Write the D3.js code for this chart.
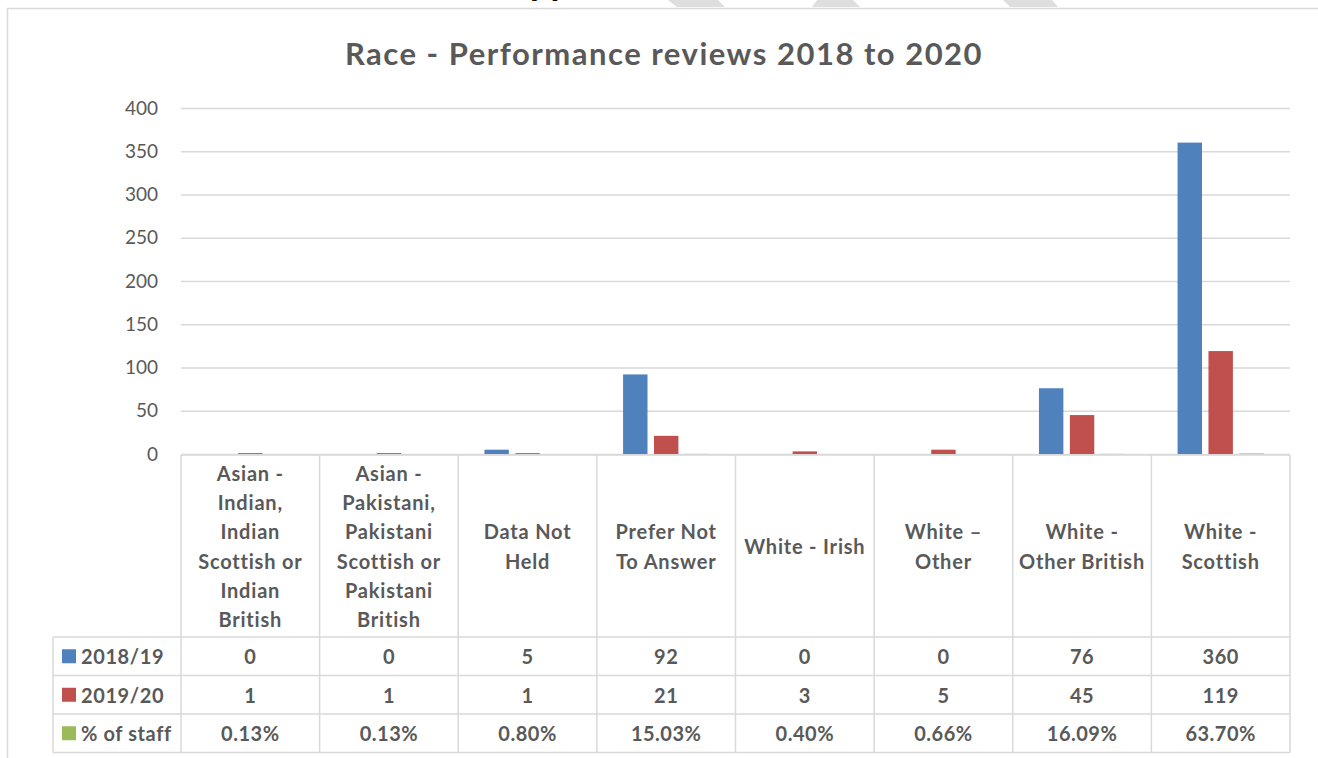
<!DOCTYPE html>
<html>
<head>
<meta charset="utf-8">
<script src="https://d3js.org/d3.v7.min.js"></script>
<style>
body { margin: 0; background: #fff; }
text { font-family: Lato, "Open Sans", sans-serif; fill: #595959; }
</style>
</head>
<body>
<div id="chart"></div>
<script>
// chart data
var categories = [
  "Asian -\nIndian,\nIndian\nScottish or\nIndian\nBritish",
  "Asian -\nPakistani,\nPakistani\nScottish or\nPakistani\nBritish",
  "Data Not\nHeld",
  "Prefer Not\nTo Answer",
  "White - Irish",
  "White \u2013\nOther",
  "White -\nOther British",
  "White -\nScottish"
];
var seriesNames = ["2018/19", "2019/20", "% of staff"];
var values2018 = [0, 0, 5, 92, 0, 0, 76, 360];
var values2019 = [1, 1, 1, 21, 3, 5, 45, 119];
var staffPct = [0.13, 0.13, 0.80, 15.03, 0.40, 0.66, 16.09, 63.70];
var yTicks = [0, 50, 100, 150, 200, 250, 300, 350, 400];
var colors = ["#4F81BD", "#C0504D", "#9BBB59"];

var W = 1318, H = 758;
var plot = {left: 181, right: 1290, top: 108, bottom: 454};
var legendLeft = 53;
var tableTop = 455, headerBottom = 637, tableBottom = 752.5;
var gridColor = "#d9d9d9";

var svg = d3.select("#chart")
  .append("svg")
  .attr("width", W)
  .attr("height", H);

// page bits above the chart frame
svg.append("text")
  .attr("x", 505)
  .attr("y", -5)
  .style("font-size", "36px")
  .style("font-weight", "bold")
  .style("fill", "#000")
  .text("Appendix");
var wm = [
  [[668, 0], [718, 0], [725, 7], [677, 7]],
  [[817, 0], [853, 0], [860, 7], [812, 7]],
  [[1003, 0], [1052, 0], [1058, 7], [1010, 7]]
];
svg.selectAll(".wm")
  .data(wm)
  .enter()
  .append("polygon")
  .attr("points", function(d) { return d.map(function(p) { return p.join(","); }).join(" "); })
  .style("fill", "#dedede");

// chart frame
svg.append("rect")
  .attr("x", 7.5)
  .attr("y", 8.5)
  .attr("width", W)
  .attr("height", H)
  .style("fill", "#fff")
  .style("stroke", gridColor)
  .style("stroke-width", 1.5);

// title
svg.append("text")
  .attr("x", 664)
  .attr("y", 65)
  .attr("text-anchor", "middle")
  .style("font-size", "31px")
  .style("letter-spacing", "1.5px")
  .style("font-weight", "bold")
  .text("Race - Performance reviews 2018 to 2020");

// scales
var y = d3.scaleLinear()
  .domain([0, 400])
  .range([plot.bottom, plot.top]);

var x0 = d3.scaleBand()
  .domain(d3.range(categories.length))
  .range([plot.left, plot.right])
  .padding(0);

var x1 = d3.scaleBand()
  .domain(seriesNames)
  .range([0, x0.bandwidth()])
  .paddingInner(0.21)
  .paddingOuter(0.848);

// y axis + gridlines
var yAxis = svg.append("g")
  .attr("transform", "translate(" + plot.left + ",0)")
  .call(d3.axisLeft(y).tickValues(yTicks).tickSize(-(plot.right - plot.left)).tickPadding(23));
yAxis.select(".domain").remove();
yAxis.selectAll(".tick line")
  .style("stroke", gridColor)
  .style("stroke-width", 1.5);
yAxis.selectAll(".tick text")
  .style("font-family", "Lato, sans-serif")
  .style("font-size", "19px")
  .style("fill", "#595959");

// bars
var barData = [];
categories.forEach(function(c, i) {
  barData.push({cat: i, s: seriesNames[0], v: values2018[i]});
  barData.push({cat: i, s: seriesNames[1], v: values2019[i]});
  barData.push({cat: i, s: seriesNames[2], v: staffPct[i] / 100});
});

svg.selectAll(".bar")
  .data(barData)
  .enter()
  .append("rect")
  .attr("class", "bar")
  .attr("x", function(d) { return x0(d.cat) + x1(d.s); })
  .attr("y", function(d) { return y(d.v); })
  .attr("width", x1.bandwidth())
  .attr("height", function(d) { return y(0) - y(d.v); })
  .style("fill", function(d) { return colors[seriesNames.indexOf(d.s)]; });

// data table
var rows = d3.scaleBand()
  .domain(seriesNames)
  .range([headerBottom, tableBottom]);

var table = svg.append("g");

// horizontal lines
table.append("line")
  .attr("x1", plot.left).attr("x2", plot.right)
  .attr("y1", tableTop).attr("y2", tableTop);
seriesNames.forEach(function(s) {
  table.append("line")
    .attr("x1", legendLeft).attr("x2", plot.right)
    .attr("y1", rows(s)).attr("y2", rows(s));
});
table.append("line")
  .attr("x1", legendLeft).attr("x2", plot.right)
  .attr("y1", tableBottom).attr("y2", tableBottom);

// vertical lines
d3.range(categories.length + 1).forEach(function(i) {
  var xx = i < categories.length ? x0(i) : plot.right;
  table.append("line")
    .attr("x1", xx).attr("x2", xx)
    .attr("y1", tableTop).attr("y2", tableBottom);
});
table.append("line")
  .attr("x1", legendLeft).attr("x2", legendLeft)
  .attr("y1", headerBottom).attr("y2", tableBottom);

table.selectAll("line")
  .style("stroke", gridColor)
  .style("stroke-width", 1.5);

// category labels
var lineH = 29.2;
categories.forEach(function(c, i) {
  var lines = c.split("\n");
  var cy = (tableTop + headerBottom) / 2 - (lines.length - 1) * lineH / 2;
  var t = table.append("text")
    .attr("text-anchor", "middle")
    .attr("dominant-baseline", "central")
    .style("font-size", "20px")
    .style("letter-spacing", "0.8px")
    .style("font-weight", "bold");
  lines.forEach(function(l, k) {
    t.append("tspan")
      .attr("x", x0(i) + x0.bandwidth() / 2)
      .attr("y", cy + k * lineH)
      .text(l);
  });
});

// legend cells
seriesNames.forEach(function(s, j) {
  var cy = rows(s) + rows.bandwidth() / 2;
  table.append("rect")
    .attr("x", 62)
    .attr("y", cy - 7)
    .attr("width", 14)
    .attr("height", 14)
    .style("fill", colors[j]);
  table.append("text")
    .attr("x", 81)
    .attr("y", cy)
    .attr("dominant-baseline", "central")
    .style("font-size", "20px")
    .style("letter-spacing", "0.6px")
    .style("font-weight", "bold")
    .text(s);
});

// values
var rowValues = [
  values2018.map(String),
  values2019.map(String),
  staffPct.map(function(v) { return v.toFixed(2) + "%"; })
];
seriesNames.forEach(function(s, j) {
  var cy = rows(s) + rows.bandwidth() / 2;
  rowValues[j].forEach(function(v, i) {
    table.append("text")
      .attr("x", x0(i) + x0.bandwidth() / 2)
      .attr("y", cy)
      .attr("text-anchor", "middle")
      .attr("dominant-baseline", "central")
      .style("font-size", "20px")
      .style("letter-spacing", "0.5px")
      .style("font-weight", "bold")
      .text(v);
  });
});
</script>
</body>
</html>
